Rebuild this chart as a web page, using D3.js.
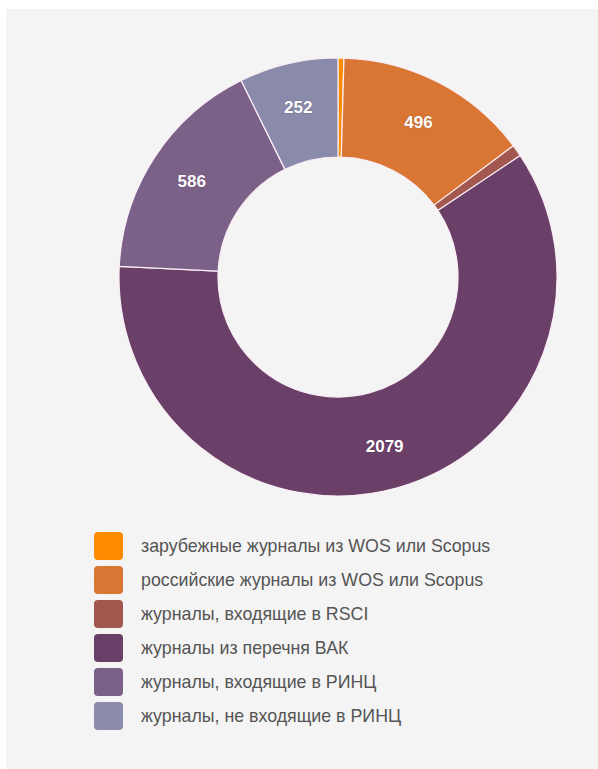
<!DOCTYPE html>
<html>
<head>
<meta charset="utf-8">
<script src="https://cdn.jsdelivr.net/npm/d3@7"></script>
<style>
  html, body { margin: 0; padding: 0; background: #ffffff; }
  svg { display: block; }
</style>
</head>
<body>
<svg id="chart" width="598" height="769"></svg>
<script>
const categories = [
  "зарубежные журналы из WOS или Scopus",
  "российские журналы из WOS или Scopus",
  "журналы, входящие в RSCI",
  "журналы из перечня ВАК",
  "журналы, входящие в РИНЦ",
  "журналы, не входящие в РИНЦ"
];
const values = [15, 496, 30, 2079, 586, 252];
const shownLabels = [false, true, false, true, true, true];
const colors = ["#ff8c00", "#d97634", "#a3584f", "#6a4068", "#7b6088", "#8a8aaa"];

const svg = d3.select("#chart");
const W = 598, H = 769;

svg.append("rect").attr("x", 6).attr("y", 9).attr("width", W - 6).attr("height", H - 9).attr("fill", "#f4f4f4");

const cx = 338, cy = 277, rOuter = 219, rInner = 120, rLabel = 175;

const pie = d3.pie().sort(null).value(d => d.v).startAngle(0).endAngle(2 * Math.PI);
const data = categories.map((c, i) => ({ c, v: values[i], i }));
const arcs = pie(data);
const arc = d3.arc().innerRadius(rInner).outerRadius(rOuter);
const labelArc = d3.arc().innerRadius(rLabel).outerRadius(rLabel);

const g = svg.append("g").attr("transform", `translate(${cx},${cy})`);
g.selectAll("path").data(arcs).enter().append("path")
  .attr("d", arc)
  .attr("fill", d => colors[d.data.i])
  .attr("stroke", "#fbeef6")
  .attr("stroke-width", 1.2)
  .attr("stroke-linejoin", "round");

g.selectAll("text.val").data(arcs.filter(d => shownLabels[d.data.i])).enter().append("text")
  .attr("class", "val")
  .attr("transform", d => `translate(${labelArc.centroid(d)})`)
  .attr("text-anchor", "middle")
  .attr("dy", "0.36em")
  .attr("fill", "#ffffff")
  .style("font-family", "'Liberation Sans', Arial, sans-serif")
  .style("font-size", "17px")
  .style("font-weight", "bold")
  .style("paint-order", "stroke")
  .attr("stroke", "rgba(60,30,60,0.25)")
  .attr("stroke-width", 1)
  .text(d => d.data.v);

// legend
const legendY = d3.scalePoint().domain(categories).range([546, 716]);
const lg = svg.append("g");
const rows = lg.selectAll("g").data(categories).enter().append("g")
  .attr("transform", d => `translate(0,${legendY(d)})`);
rows.append("rect")
  .attr("x", 94).attr("y", -14).attr("width", 29).attr("height", 28)
  .attr("rx", 4).attr("ry", 4)
  .attr("fill", (d, i) => colors[i]);
rows.append("text")
  .attr("x", 141).attr("dy", "0.35em")
  .attr("fill", "#555555")
  .style("font-family", "'Liberation Sans', Arial, sans-serif")
  .style("font-size", "17.8px")
  .text(d => d);
</script>
</body>
</html>
